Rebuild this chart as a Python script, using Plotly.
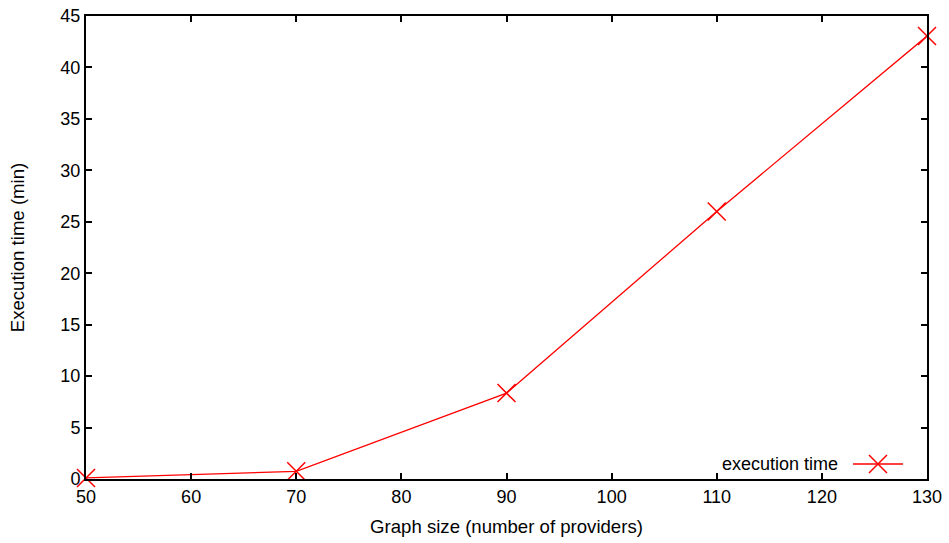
import plotly.graph_objects as go

graph_size = [50, 70, 90, 110, 130]
exec_time = [0.1, 0.75, 8.35, 26.0, 43.05]
series_name = "execution time"
x_ticks = [50, 60, 70, 80, 90, 100, 110, 120, 130]
y_ticks = [0, 5, 10, 15, 20, 25, 30, 35, 40, 45]

RED = "#ff0000"
FONT = "Liberation Sans, Arial, sans-serif"

fig = go.Figure()
fig.add_trace(go.Scatter(
    x=graph_size, y=exec_time, mode="lines+markers", name=series_name,
    line=dict(color=RED, width=1.3),
    marker=dict(symbol="x-thin-open", size=18, line=dict(color=RED, width=1.5), color=RED),
    showlegend=False, cliponaxis=False,
))
# gnuplot-style legend key (text left of sample), drawn on overlay axes in [0,1]
fig.add_trace(go.Scatter(
    x=[0.912, 0.9715], y=[0.0324, 0.0324], mode="lines",
    xaxis="x2", yaxis="y2",
    line=dict(color=RED, width=1.3),
    showlegend=False, hoverinfo="skip", cliponaxis=False,
))
fig.add_trace(go.Scatter(
    x=[0.9417], y=[0.0324], mode="markers",
    xaxis="x2", yaxis="y2",
    marker=dict(symbol="x-thin-open", size=18, line=dict(color=RED, width=1.5), color=RED),
    showlegend=False, hoverinfo="skip", cliponaxis=False,
))
fig.add_annotation(x=0.8966, y=0.0324, xref="x2", yref="y2", text=series_name,
                   showarrow=False, xanchor="right", yanchor="middle",
                   font=dict(family=FONT, size=18, color="black"))

axis_common = dict(showgrid=False, zeroline=False, showline=True, linecolor="black",
                   linewidth=2, mirror="allticks", ticks="inside", ticklen=6,
                   tickwidth=1.5, tickcolor="black", automargin=False,
                   tickfont=dict(family=FONT, size=18, color="black"))

fig.update_layout(
    width=949, height=543,
    margin=dict(l=86, r=22, t=16, b=64),
    paper_bgcolor="white", plot_bgcolor="white",
    font=dict(family=FONT, color="black"),
    xaxis=dict(range=[50, 130], tickvals=x_ticks,
               title=dict(text="Graph size (number of providers)", font=dict(family=FONT, size=18.6), standoff=14),
               **axis_common),
    yaxis=dict(range=[0, 45], tickvals=y_ticks,
               title=dict(text="Execution time (min)", font=dict(family=FONT, size=18.6), standoff=31),
               **axis_common),
    xaxis2=dict(overlaying="x", range=[0, 1], visible=False, fixedrange=True, anchor="y2", automargin=False),
    yaxis2=dict(overlaying="y", range=[0, 1], visible=False, fixedrange=True, anchor="x2", automargin=False),
)

fig.write_html("out.html")
